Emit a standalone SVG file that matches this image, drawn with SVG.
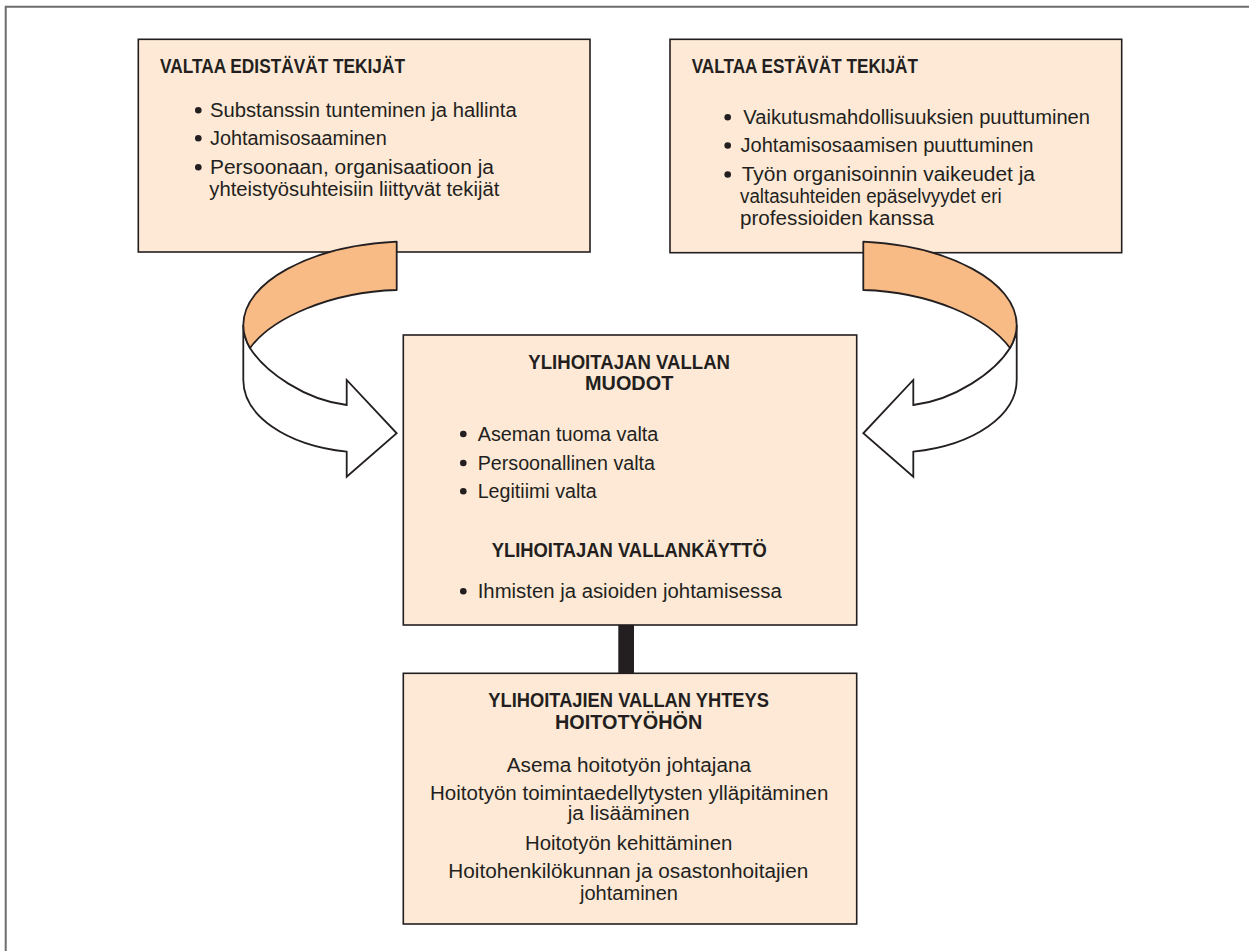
<svg xmlns="http://www.w3.org/2000/svg" width="1249" height="951" viewBox="0 0 1249 951">
<style>
.box{fill:#FDE9D6;stroke:#231F20;stroke-width:1.6}
.t{font-family:"Liberation Sans",Arial,sans-serif;font-size:20.5px;font-weight:bold;fill:#231F20}
.b{font-family:"Liberation Sans",Arial,sans-serif;font-size:20px;fill:#231F20}
.dot{fill:#231F20}
.band{fill:#F9BB85;stroke:#231F20;stroke-width:1.8;stroke-linejoin:round}
.ribbon{fill:#FFFFFF;stroke:#231F20;stroke-width:1.8;stroke-linejoin:miter}
</style>
<defs>
<g id="curl">
<path class="ribbon" d="M243.3,325 L243.3,380 C243.3,415 285,445 346.7,451.7 L346.7,476.7 L396.7,433.3 L346.7,380 L346.7,405 C305,400 265,372 250,348 C246,341 243.3,333 243.3,325 Z"/>
<path class="band" d="M396.7,241.7 C310,246 243.3,282 243.3,325 C243.3,333 246,341 250,348 C272,318 330,292 396.7,290 Z"/>
</g>
</defs>
<rect width="1249" height="951" fill="#FFFFFF"/>
<path d="M5.7,951 L5.7,6.7 L1249,6.7" fill="none" stroke="#6d6d6d" stroke-width="2"/>

<g id="node-edistavat">
<rect class="box" x="138.3" y="39.3" width="451.7" height="212.7"/>
<text class="t" x="160" y="73.3" textLength="245" lengthAdjust="spacingAndGlyphs">VALTAA EDISTÄVÄT TEKIJÄT</text>
<circle class="dot" cx="198.3" cy="110.3" r="3.3"/>
<text class="b" x="210" y="117" textLength="306.7" lengthAdjust="spacingAndGlyphs">Substanssin tunteminen ja hallinta</text>
<circle class="dot" cx="198.3" cy="138.3" r="3.3"/>
<text class="b" x="210" y="145" textLength="176.7" lengthAdjust="spacingAndGlyphs">Johtamisosaaminen</text>
<circle class="dot" cx="198.3" cy="167.3" r="3.3"/>
<text class="b" x="210" y="174" textLength="284" lengthAdjust="spacingAndGlyphs">Persoonaan, organisaatioon ja</text>
<text class="b" x="209.3" y="195.5" textLength="290" lengthAdjust="spacingAndGlyphs">yhteistyösuhteisiin liittyvät tekijät</text>
</g>

<g id="node-estavat">
<rect class="box" x="670" y="39.3" width="451.7" height="213.4"/>
<text class="t" x="691.7" y="73.3" textLength="226.3" lengthAdjust="spacingAndGlyphs">VALTAA ESTÄVÄT TEKIJÄT</text>
<circle class="dot" cx="727.7" cy="117.3" r="3.3"/>
<text class="b" x="743.3" y="124" textLength="346.7" lengthAdjust="spacingAndGlyphs">Vaikutusmahdollisuuksien puuttuminen</text>
<circle class="dot" cx="727.7" cy="145.5" r="3.3"/>
<text class="b" x="740.5" y="152.3" textLength="293" lengthAdjust="spacingAndGlyphs">Johtamisosaamisen puuttuminen</text>
<circle class="dot" cx="727.7" cy="174.5" r="3.3"/>
<text class="b" x="741.7" y="181.3" textLength="293.3" lengthAdjust="spacingAndGlyphs">Työn organisoinnin vaikeudet ja</text>
<text class="b" x="740" y="203" textLength="261.7" lengthAdjust="spacingAndGlyphs">valtasuhteiden epäselvyydet eri</text>
<text class="b" x="740" y="224.5" textLength="194" lengthAdjust="spacingAndGlyphs">professioiden kanssa</text>
</g>

<g id="node-muodot">
<rect class="box" x="403.3" y="335" width="453.4" height="290"/>
<text class="t" x="528.3" y="369.3" textLength="201.7" lengthAdjust="spacingAndGlyphs">YLIHOITAJAN VALLAN</text>
<text class="t" x="585" y="390" textLength="88.3" lengthAdjust="spacingAndGlyphs">MUODOT</text>
<circle class="dot" cx="463.3" cy="434" r="3.3"/>
<text class="b" x="477.7" y="441" textLength="180.7" lengthAdjust="spacingAndGlyphs">Aseman tuoma valta</text>
<circle class="dot" cx="463.3" cy="463" r="3.3"/>
<text class="b" x="477.7" y="470" textLength="177.3" lengthAdjust="spacingAndGlyphs">Persoonallinen valta</text>
<circle class="dot" cx="463.3" cy="491.3" r="3.3"/>
<text class="b" x="477.7" y="498.3" textLength="119" lengthAdjust="spacingAndGlyphs">Legitiimi valta</text>
<text class="t" x="491.7" y="556.7" textLength="275" lengthAdjust="spacingAndGlyphs">YLIHOITAJAN VALLANKÄYTTÖ</text>
<circle class="dot" cx="463.3" cy="591.3" r="3.3"/>
<text class="b" x="477.7" y="598.3" textLength="304" lengthAdjust="spacingAndGlyphs">Ihmisten ja asioiden johtamisessa</text>
</g>

<g id="node-yhteys">
<rect class="box" x="403.3" y="673.3" width="453.4" height="250.7"/>
<text class="t" x="488.3" y="707.3" textLength="280.7" lengthAdjust="spacingAndGlyphs">YLIHOITAJIEN VALLAN YHTEYS</text>
<text class="t" x="555" y="728.7" textLength="147.3" lengthAdjust="spacingAndGlyphs">HOITOTYÖHÖN</text>
<text class="b" x="506.7" y="771.7" textLength="244.3" lengthAdjust="spacingAndGlyphs">Asema hoitotyön johtajana</text>
<text class="b" x="430" y="800" textLength="398.3" lengthAdjust="spacingAndGlyphs">Hoitotyön toimintaedellytysten ylläpitäminen</text>
<text class="b" x="567.7" y="820.3" textLength="122" lengthAdjust="spacingAndGlyphs">ja lisääminen</text>
<text class="b" x="525" y="850" textLength="207.3" lengthAdjust="spacingAndGlyphs">Hoitotyön kehittäminen</text>
<text class="b" x="448.3" y="878.3" textLength="360" lengthAdjust="spacingAndGlyphs">Hoitohenkilökunnan ja osastonhoitajien</text>
<text class="b" x="580" y="900" textLength="98" lengthAdjust="spacingAndGlyphs">johtaminen</text>
</g>

<g id="connectors">
<rect x="618.3" y="625" width="15.7" height="48.3" fill="#231F20"/>
<use href="#curl"/>
<use href="#curl" transform="translate(1260,0) scale(-1,1)"/>
</g>
</svg>
